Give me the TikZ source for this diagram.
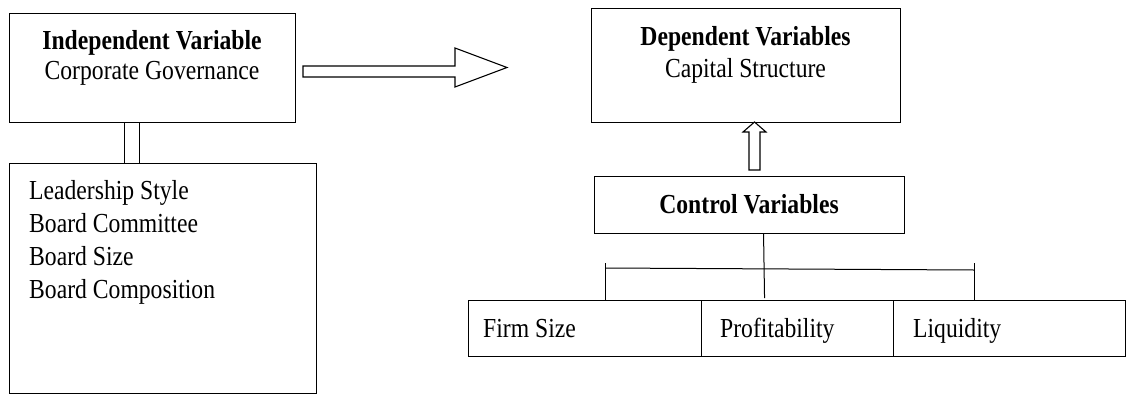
\documentclass[tikz,border=0pt]{standalone}
\usepackage{fontspec}
\setmainfont[FakeStretch=0.86]{Liberation Serif}
\begin{document}
\begin{tikzpicture}[x=1pt,y=-1pt,
  box/.style={draw,line width=1.1pt,anchor=north west,inner sep=0pt},
  txt/.style={anchor=base,inner sep=0pt,font=\fontsize{27.5}{33}\selectfont},
  ltxt/.style={anchor=base west,inner sep=0pt,font=\fontsize{27.5}{33}\selectfont},
  conn/.style={line width=1pt},
  fatarrow/.style={draw,line width=1.1pt,fill=white,line join=miter}]
\useasboundingbox (0,0) rectangle (1138,394);
% boxes
\node[box,minimum width=286pt,minimum height=109pt] (iv) at (9,13) {};
\node[box,minimum width=309pt,minimum height=114pt] (dv) at (591,8) {};
\node[box,minimum width=307pt,minimum height=230pt] (list) at (9,163) {};
\node[box,minimum width=310pt,minimum height=57pt] (ctrl) at (594,176) {};
\node[box,minimum width=233pt,minimum height=56pt] (firm) at (468,300) {};
\node[box,minimum width=192pt,minimum height=56pt] (prof) at (701,300) {};
\node[box,minimum width=232pt,minimum height=56pt] (liq) at (893,300) {};
% texts
\node[txt] (ivt1) at (152,49.5) {\textbf{Independent Variable}};
\node[txt] (ivt2) at (152,79) {Corporate Governance};
\node[txt] (dvt1) at (745.5,45) {\textbf{Dependent Variables}};
\node[txt] (dvt2) at (745.5,77) {Capital Structure};
\node[txt] (ctt) at (749,213) {\textbf{Control Variables}};
\node[ltxt] (l1) at (29,199) {Leadership Style};
\node[ltxt] (l2) at (29,232) {Board Committee};
\node[ltxt] (l3) at (29,265) {Board Size};
\node[ltxt] (l4) at (29,298) {Board Composition};
\node[ltxt] (ft) at (483,337) {Firm Size};
\node[ltxt] (pt) at (720,337) {Profitability};
\node[ltxt] (qt) at (913,337) {Liquidity};
% double line
\draw[conn] ([xshift=-28pt]iv.south) -- ([xshift=-28pt]iv.south |- list.north);
\draw[conn] ([xshift=-13pt]iv.south) -- ([xshift=-13pt]iv.south |- list.north);
% big right arrow
\coordinate (ra) at (303,66);
\draw[fatarrow] (ra) -- ++(152,0) -- ++(0,-18) -- ++(52,19.5) -- ++(-52,19.5) -- ++(0,-10) -- ++(-152,0) -- cycle;
% up arrow
\coordinate (ua) at (749,170);
\draw[fatarrow] (ua) -- ++(0,-38) -- ++(-6,0) -- ++(11.5,-10) -- ++(11.5,10) -- ++(-6,0) -- ++(0,38) -- cycle;
% tree
\coordinate (hl) at (605,268);
\coordinate (hr) at (974,270);
\draw[conn] ([xshift=14pt]ctrl.south) -- ++(1,64);
\draw[conn] (hl) -- (hr);
\draw[conn] ([yshift=5pt]hl) -- (hl |- firm.north);
\draw[conn] ([yshift=7pt]hr) -- (hr |- liq.north);
\end{tikzpicture}
\end{document}
